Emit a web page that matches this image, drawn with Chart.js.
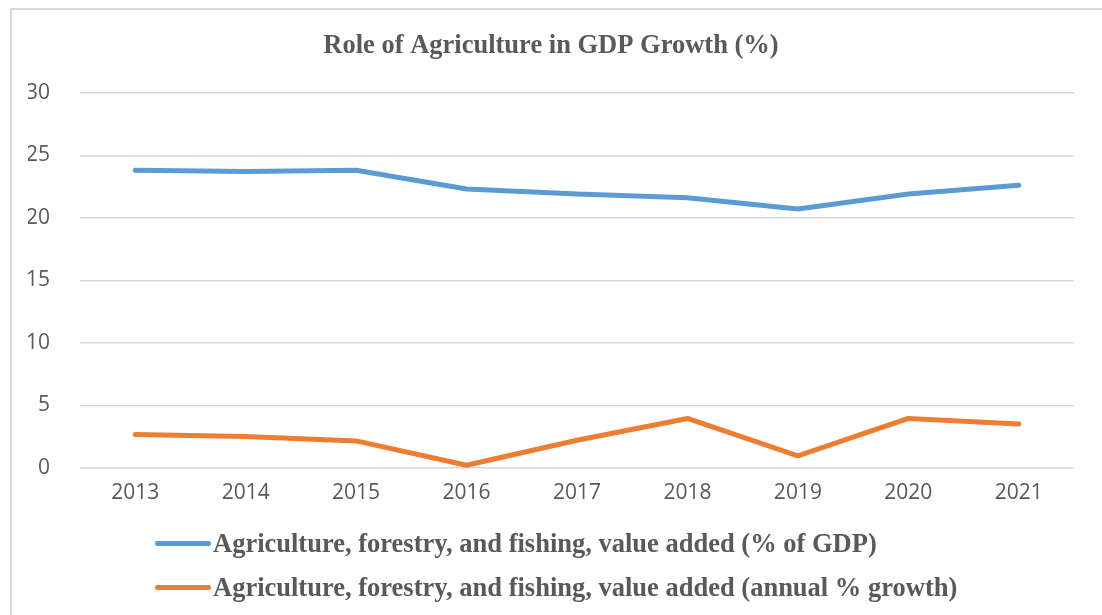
<!DOCTYPE html>
<html>
<head>
<meta charset="utf-8">
<script src="https://cdn.jsdelivr.net/npm/chart.js@4.4.1/dist/chart.umd.min.js"></script>
<style>
  html, body { margin: 0; padding: 0; background: #fff; }
  #wrap { position: relative; width: 1102px; height: 615px; overflow: hidden; }
  #frame { position: absolute; left: 10px; top: 8px; right: -5px; bottom: -5px; border-top: 2px solid #d9d9d9; border-left: 2px solid #d9d9d9; }
  #chart { position: absolute; left: 0; top: 0; }
  #legend { position: absolute; left: 155px; top: 521px; font-family: "Liberation Serif", "DejaVu Serif", serif; font-weight: bold; font-size: 26.5px; color: #595959; }
  #legend .row { display: flex; align-items: center; height: 44px; white-space: nowrap; }
  #legend .swatch { width: 56px; height: 5px; border-radius: 3px; margin-right: 2px; }
</style>
</head>
<body>
<div id="wrap">
  <div id="frame"></div>
  <canvas id="chart" width="1102" height="615"></canvas>
  <div id="legend"></div>
</div>
<script>
// --- data ---
const years = ['2013', '2014', '2015', '2016', '2017', '2018', '2019', '2020', '2021'];
const shareOfGdp = [23.8, 23.7, 23.8, 22.3, 21.9, 21.6, 20.7, 21.9, 22.6];
const annualGrowth = [2.66, 2.5, 2.15, 0.2, 2.2, 3.95, 0.95, 3.95, 3.5];
const seriesNames = [
    'Agriculture, forestry, and fishing, value added (% of GDP)',
    'Agriculture, forestry, and fishing, value added (annual % growth)'
];
const seriesColors = ['#5B9BD5', '#ED7D31'];
const yTicks = [0, 5, 10, 15, 20, 25, 30];

const tickColor = '#595959';
const tickFont = { family: '"Open Sans", sans-serif', size: 21 };

// HTML legend built from the chart's own legend items
const htmlLegend = {
    id: 'htmlLegend',
    afterUpdate: (chart) => {
        const box = document.getElementById('legend');
        box.innerHTML = '';
        chart.options.plugins.legend.labels.generateLabels(chart).forEach(item => {
            const row = document.createElement('div');
            row.className = 'row';
            const sw = document.createElement('span');
            sw.className = 'swatch';
            sw.style.background = item.strokeStyle;
            const txt = document.createElement('span');
            txt.textContent = item.text;
            row.appendChild(sw);
            row.appendChild(txt);
            box.appendChild(row);
        });
    }
};

const ctx = document.getElementById('chart').getContext('2d');
new Chart(ctx, {
    type: 'line',
    data: {
        labels: years,
        datasets: [
            { label: seriesNames[0], data: shareOfGdp, borderColor: seriesColors[0], backgroundColor: seriesColors[0] },
            { label: seriesNames[1], data: annualGrowth, borderColor: seriesColors[1], backgroundColor: seriesColors[1] }
        ].map(ds => Object.assign(ds, {
            borderWidth: 5,
            pointRadius: 0,
            tension: 0,
            borderCapStyle: 'round',
            borderJoinStyle: 'round',
            fill: false
        }))
    },
    options: {
        responsive: false,
        animation: false,
        layout: { padding: { left: 28, right: 28, top: 14, bottom: 104 } },
        plugins: {
            legend: { display: false },
            tooltip: { enabled: false },
            title: {
                display: true,
                text: 'Role of Agriculture in GDP Growth (%)',
                color: tickColor,
                font: { family: '"Liberation Serif", serif', size: 26.5, weight: 'bold' },
                padding: { top: 16, bottom: 31 }
            }
        },
        scales: {
            x: {
                offset: true,
                grid: { display: false },
                border: { display: false },
                ticks: { color: tickColor, font: tickFont, padding: 5 }
            },
            y: {
                min: 0,
                max: 30,
                afterBuildTicks: (axis) => { axis.ticks = yTicks.map(v => ({ value: v })); },
                afterFit: (axis) => { axis.width = 52; },
                grid: { color: '#d9d9d9', lineWidth: 1.5, drawTicks: false },
                border: { display: false },
                ticks: { color: tickColor, font: tickFont, padding: 30 }
            }
        }
    },
    plugins: [htmlLegend]
});
</script>
</body>
</html>
